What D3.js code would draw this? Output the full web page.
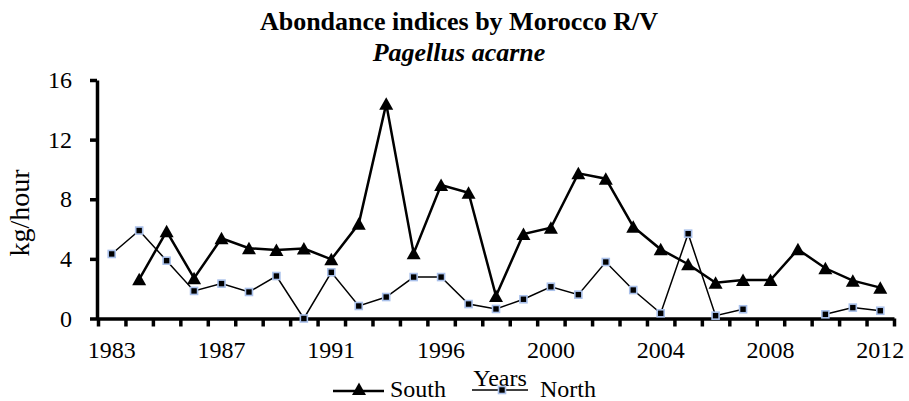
<!DOCTYPE html>
<html>
<head>
<meta charset="utf-8">
<script src="https://cdn.jsdelivr.net/npm/d3@7"></script>
<style>
  body { margin: 0; background: #fff; }
  svg text { font-family: 'Liberation Serif', 'Times New Roman', Times, serif; fill: #000; }
</style>
</head>
<body>
<script>
// survey years (one survey year missing between 1991 and 1996)
const years = [1983, 1984, 1985, 1986, 1987, 1988, 1989, 1990, 1991, 1992, 1993, 1995,
  1996, 1997, 1998, 1999, 2000, 2001, 2002, 2003, 2004, 2005, 2006, 2007, 2008,
  2009, 2010, 2011, 2012];
const shownYears = [1983, 1987, 1991, 1996, 2000, 2004, 2008, 2012];
const yTicks = [0, 4, 8, 12, 16];

// kg/hour
const south = [null, 2.63, 5.85, 2.7, 5.38, 4.71, 4.6, 4.69, 3.97, 6.35, 14.4, 4.37,
  8.96, 8.44, 1.51, 5.67, 6.09, 9.74, 9.38, 6.16, 4.64, 3.64, 2.4, 2.58, 2.58,
  4.64, 3.37, 2.54, 2.07];
const north = [4.33, 5.9, 3.88, 1.85, 2.34, 1.78, 2.85, 0, 3.1, 0.84, 1.44, 2.78,
  2.78, 0.97, 0.64, 1.29, 2.13, 1.6, 3.79, 1.91, 0.35, 5.69, 0.19, 0.62, null,
  null, 0.28, 0.73, 0.52];

const width = 909;
const height = 401;
const plotLeft = 98, plotRight = 894, plotTop = 80, plotBottom = 318.5;
const serif = "'Liberation Serif', serif";

const svg = d3.select('body').append('svg')
  .attr('width', width)
  .attr('height', height)
  .attr('font-family', serif);

const x = d3.scaleBand().domain(years).range([plotLeft, plotRight]).padding(0);
const cx = (yr) => x(yr) + x.bandwidth() / 2;
const xb = d3.scaleLinear().domain([0, years.length]).range([plotLeft, plotRight]);
const y = d3.scaleLinear().domain([0, 16]).range([plotBottom, plotTop]);

// title
svg.append('text')
  .attr('x', 459).attr('y', 30)
  .attr('text-anchor', 'middle')
  .style('font-size', '26px').style('font-weight', 'bold')
  .text('Abondance indices by Morocco R/V');
svg.append('text')
  .attr('x', 459).attr('y', 61)
  .attr('text-anchor', 'middle')
  .style('font-size', '26px').style('font-weight', 'bold').style('font-style', 'italic')
  .text('Pagellus acarne');

// y axis
const yAxis = svg.append('g')
  .attr('transform', `translate(${plotLeft - 1},0)`)
  .call(d3.axisLeft(y).tickValues(yTicks).tickSize(7).tickSizeOuter(0).tickPadding(18));
yAxis.attr('font-family', serif);
yAxis.select('.domain').attr('stroke', '#000').attr('stroke-width', 3.5);
yAxis.selectAll('.tick line').attr('stroke', '#000').attr('stroke-width', 3.5);
yAxis.selectAll('.tick text').attr('font-size', 24);

svg.append('text')
  .attr('transform', 'translate(29,213) rotate(-90)')
  .attr('text-anchor', 'middle')
  .style('font-size', '28px')
  .text('kg/hour');

// x axis: ticks between categories, labels every 4th year
const xAxis = svg.append('g')
  .attr('transform', `translate(0,${plotBottom})`)
  .call(d3.axisBottom(xb).tickValues(d3.range(years.length + 1)).tickSize(8)
    .tickSizeOuter(0).tickFormat(''));
xAxis.select('.domain').attr('stroke', '#000').attr('stroke-width', 3.5);
xAxis.selectAll('.tick line').attr('stroke', '#000').attr('stroke-width', 3.5);

svg.append('g').selectAll('text')
  .data(shownYears)
  .join('text')
  .attr('x', (d) => cx(d))
  .attr('y', 358)
  .attr('text-anchor', 'middle')
  .style('font-size', '24px')
  .text((d) => d);

svg.append('text')
  .attr('x', 500).attr('y', 386)
  .attr('text-anchor', 'middle')
  .style('font-size', '24px')
  .text('Years');

// series
const triangle = 'M0,-6.5L7,6L-7,6Z';
const sq = 7;

const southPts = years.map((yr, i) => ({ yr, v: south[i] }));
const northPts = years.map((yr, i) => ({ yr, v: north[i] }));

const line = d3.line()
  .defined((d) => d.v != null)
  .x((d) => cx(d.yr))
  .y((d) => y(d.v));

svg.append('path')
  .datum(northPts)
  .attr('fill', 'none')
  .attr('stroke', '#000')
  .attr('stroke-width', 1.5)
  .attr('d', line);

svg.append('path')
  .datum(southPts)
  .attr('fill', 'none')
  .attr('stroke', '#000')
  .attr('stroke-width', 2.5)
  .attr('d', line);

svg.append('g').selectAll('rect')
  .data(northPts.filter((d) => d.v != null))
  .join('rect')
  .attr('x', (d) => cx(d.yr) - sq / 2)
  .attr('y', (d) => y(d.v) - sq / 2)
  .attr('width', sq).attr('height', sq)
  .attr('fill', '#000')
  .attr('stroke', '#a9c0ea')
  .attr('stroke-width', 1.6);

svg.append('g').selectAll('path')
  .data(southPts.filter((d) => d.v != null))
  .join('path')
  .attr('transform', (d) => `translate(${cx(d.yr)},${y(d.v)})`)
  .attr('d', triangle)
  .attr('fill', '#000');

// legend
const lg = svg.append('g');
lg.append('line')
  .attr('x1', 333).attr('x2', 384).attr('y1', 391).attr('y2', 391)
  .attr('stroke', '#000').attr('stroke-width', 2.5);
lg.append('path')
  .attr('transform', 'translate(359,389)')
  .attr('d', triangle).attr('fill', '#000');
lg.append('text')
  .attr('x', 390).attr('y', 397)
  .style('font-size', '24px')
  .text('South');

lg.append('line')
  .attr('x1', 472).attr('x2', 528).attr('y1', 390).attr('y2', 390)
  .attr('stroke', '#000').attr('stroke-width', 1.5);
lg.append('rect')
  .attr('x', 502 - sq / 2).attr('y', 390 - sq / 2)
  .attr('width', sq).attr('height', sq)
  .attr('fill', '#000').attr('stroke', '#a9c0ea').attr('stroke-width', 1.6);
lg.append('text')
  .attr('x', 540).attr('y', 397)
  .style('font-size', '24px')
  .text('North');
</script>
</body>
</html>
